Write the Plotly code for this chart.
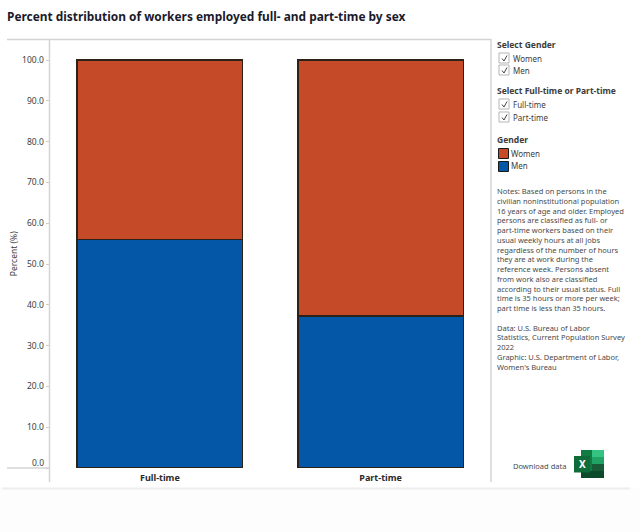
import plotly.graph_objects as go

# Share of full- and part-time workers by sex, 2022
statuses = ["Full-time", "Part-time"]
women = [44.0, 62.7]
men = [56.0, 37.3]
tick_values = [0, 10, 20, 30, 40, 50, 60, 70, 80, 90, 100]
tick_labels = ["0.0", "10.0", "20.0", "30.0", "40.0", "50.0", "60.0", "70.0", "80.0", "90.0", "100.0"]

WOMEN_COLOR = "#c44a28"
MEN_COLOR = "#0457a6"
OUTLINE = "#2b2118"
RULE = "#d4d4d4"
TEXT = "#3c3c3c"
FONT = "Noto Sans"
W, H = 640, 532

notes = (
    "Notes: Based on persons in the<br>civilian noninstitutional population<br>"
    "16 years of age and older. Employed<br>persons are classified as full- or<br>"
    "part-time workers based on their<br>usual weekly hours at all jobs<br>"
    "regardless of the number of hours<br>they are at work during the<br>"
    "reference week. Persons absent<br>from work also are classified<br>"
    "according to their usual status. Full<br>time is 35 hours or more per week;<br>"
    "part time is less than 35 hours.<br><br>"
    "Data: U.S. Bureau of Labor<br>Statistics, Current Population Survey<br>2022<br>"
    "Graphic: U.S. Department of Labor,<br>Women's Bureau"
)


def px_x(x):
    return x / W


def px_y(y):
    return 1 - y / H


def label(x, y, text, size=8, bold=False, color=TEXT, xanchor="left", yanchor="middle", **kw):
    return dict(
        x=px_x(x), y=px_y(y), xref="paper", yref="paper", text=f"<b>{text}</b>" if bold else text,
        showarrow=False, xanchor=xanchor, yanchor=yanchor, align="left",
        font=dict(family=FONT, size=size, color=color), **kw,
    )


def box(x0, y0, x1, y1, fill="rgba(0,0,0,0)", line=None, width=1):
    return dict(
        type="rect", xref="paper", yref="paper", x0=px_x(x0), x1=px_x(x1), y0=px_y(y0), y1=px_y(y1),
        fillcolor=fill, line=dict(color=line or fill, width=width if line else 0), layer="above",
    )


def rule(x0, y0, x1, y1, color=RULE, width=1.5):
    return dict(
        type="line", xref="paper", yref="paper", x0=px_x(x0), x1=px_x(x1), y0=px_y(y0), y1=px_y(y1),
        line=dict(color=color, width=width), layer="above",
    )


def checkbox(x, y):
    tick = (
        f"M {px_x(x + 3)} {px_y(y + 5.5)} L {px_x(x + 5)} {px_y(y + 8)} L {px_x(x + 8)} {px_y(y + 2.5)}"
    )
    return [
        box(x, y, x + 10, y + 10, fill="#ffffff", line="#b5b5b5", width=1),
        dict(type="path", xref="paper", yref="paper", path=tick, line=dict(color="#444444", width=1), layer="above"),
    ]


fig = go.Figure()
fig.add_bar(name="Men", x=statuses, y=men, marker=dict(color=MEN_COLOR, line=dict(color=OUTLINE, width=1.5)), width=0.75)
fig.add_bar(name="Women", x=statuses, y=women, marker=dict(color=WOMEN_COLOR, line=dict(color=OUTLINE, width=1.5)), width=0.75)

shapes = [
    rule(7, 39.5, 491, 39.5),
    rule(49.5, 39, 49.5, 482),
    rule(491, 39, 491, 482),
    rule(7, 468, 49, 468),
    box(0, 488, 640, 532, fill="#fdfdfd"),
    rule(2, 488.5, 630, 488.5, color="#eeeeee", width=2),
    # Legend swatches
    box(498.5, 148.5, 508.5, 158.5, fill=WOMEN_COLOR, line="#1a1a1a", width=1),
    box(498.5, 161.5, 508.5, 171.5, fill=MEN_COLOR, line="#1a1a1a", width=1),
    # Spreadsheet icon
    box(581, 450, 604, 478, fill="#107c41"),
    box(592, 450, 604, 457, fill="#33c481"),
    box(592, 457, 604, 464, fill="#21a366"),
    box(592, 464, 604, 471, fill="#185c37"),
    box(581, 471, 604, 478, fill="#0b4a2a"),
    box(574, 456, 590, 472.5, fill="#0f6b3a"),
]
for cy in (53, 65, 99, 112):
    shapes += checkbox(499, cy)

annotations = [
    label(5, 16, "Percent distribution of workers employed full- and part-time by sex", size=11.9, bold=True, color="#1a1a2a"),
    label(495, 44.5, "Select Gender", size=8.5, bold=True),
    label(511, 58, "Women"),
    label(511, 70.5, "Men"),
    label(495, 91, "Select Full-time or Part-time", size=8.5, bold=True),
    label(511, 104, "Full-time"),
    label(511, 117.5, "Part-time"),
    label(495, 140, "Gender", size=8.5, bold=True),
    label(509, 153, "Women"),
    label(509, 166, "Men"),
    label(495, 184, notes, size=7.5, yanchor="top", color="#4a4a4a"),
    label(511, 465.5, "Download data", size=7.5, color="#4a4a4a"),
    label(582, 464, "X", size=10, bold=True, color="#ffffff", xanchor="center"),
    label(46, 462, tick_labels[0], size=8.5, xanchor="right"),
]

fig.update_layout(
    width=W, height=H, autosize=False, barmode="stack", showlegend=False,
    paper_bgcolor="#ffffff", plot_bgcolor="#ffffff",
    margin=dict(l=0, r=0, t=0, b=0),
    font=dict(family=FONT, size=8.5, color=TEXT),
    shapes=shapes, annotations=annotations,
    xaxis=dict(
        domain=[px_x(49.5), px_x(491)], range=[-0.5, 1.5], showgrid=False, zeroline=False, showline=False,
        tickfont=dict(family=FONT, size=9, color="#2a2a2a"), ticks="", anchor="y",
        tickvals=statuses, ticktext=[f"<b>{s}</b>" for s in statuses], ticklabelstandoff=3,
    ),
    yaxis=dict(
        domain=[px_y(468), px_y(39.5)], range=[0, 105.03], showgrid=False, zeroline=False, showline=False,
        tickvals=tick_values, ticktext=[""] + tick_labels[1:], ticks="outside", ticklen=3, tickcolor="#cccccc",
        tickfont=dict(family=FONT, size=8.5, color=TEXT),
        title=dict(text="Percent (%)", font=dict(family=FONT, size=8.5, color=TEXT), standoff=3),
    ),
)

fig.write_html("out.html")
